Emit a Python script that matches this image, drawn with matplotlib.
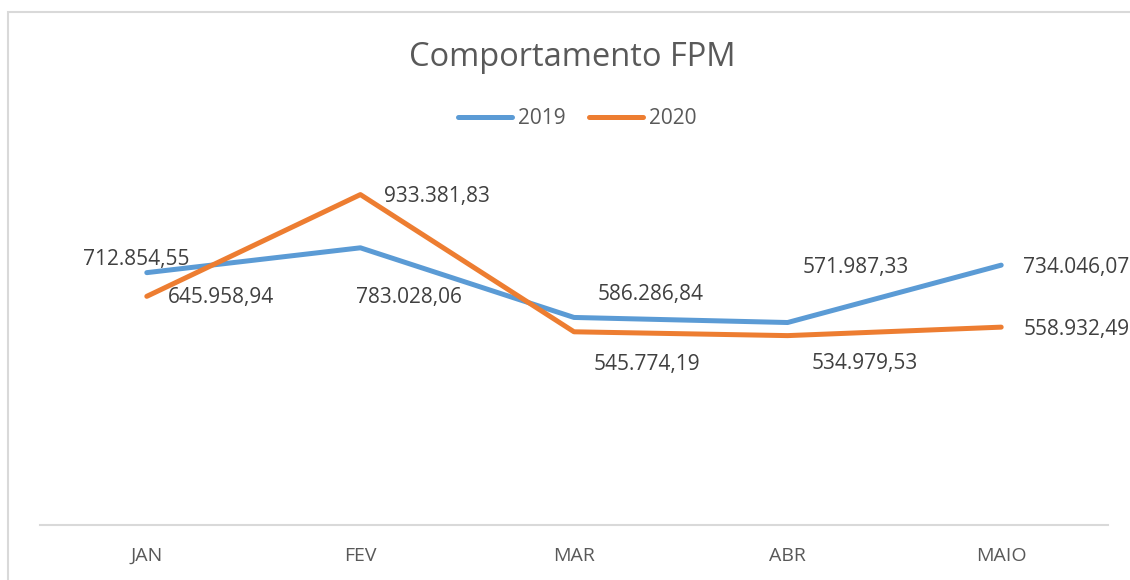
import matplotlib
matplotlib.use('Agg')
import matplotlib.pyplot as plt
from matplotlib.patches import Rectangle

# dados
meses = ['JAN', 'FEV', 'MAR', 'ABR', 'MAIO']
valores_2019 = [712854.55, 783028.06, 586286.84, 571987.33, 734046.07]
valores_2020 = [645958.94, 933381.83, 545774.19, 534979.53, 558932.49]
series = ['2019', '2020']

# deslocamento dos rótulos (pixels)
desloc_2019 = [(-11, 13), (49, -50), (77, 23), (68, 55), (75, -2)]
desloc_2020 = [(74, -1), (77, -2), (73, -33), (77, -28), (75, -2)]

azul = '#5B9BD5'
laranja = '#ED7D31'

plt.rcParams['font.family'] = ['Open Sans', 'DejaVu Sans']


def formata(v):
    s = f"{v:,.2f}"
    return s.replace(',', 'X').replace('.', ',').replace('X', '.')


fig = plt.figure(figsize=(11.3, 5.8), dpi=100)
ax = fig.add_axes([40 / 1130, 55 / 580, 1068 / 1130, 354 / 580])

x = list(range(len(meses)))
ax.plot(x, valores_2019, color=azul, lw=3.6, solid_capstyle='round', solid_joinstyle='round', label=series[0])
ax.plot(x, valores_2020, color=laranja, lw=3.6, solid_capstyle='round', solid_joinstyle='round', label=series[1])

for i, v in enumerate(valores_2019):
    ax.annotate(formata(v), (i, v), xytext=desloc_2019[i], textcoords='offset pixels',
                ha='center', va='center', fontsize=15, color='#404040')
for i, v in enumerate(valores_2020):
    ax.annotate(formata(v), (i, v), xytext=desloc_2020[i], textcoords='offset pixels',
                ha='center', va='center', fontsize=15, color='#404040')

ax.set_xlim(-0.5, 4.5)
ax.set_ylim(0, 1000000)
ax.set_xticks(x)
ax.set_xticklabels(meses, fontsize=14, color='#595959')
ax.tick_params(axis='x', length=0, pad=16)
ax.set_yticks([])
for lado in ['top', 'left', 'right']:
    ax.spines[lado].set_visible(False)
ax.spines['bottom'].set_color('#d9d9d9')
ax.spines['bottom'].set_linewidth(1.5)
ax.patch.set_alpha(0)

fig.text(572 / 1130, 1 - 57 / 580, 'Comportamento FPM', ha='center', va='center',
         fontsize=23.5, color='#595959')

fig.legend(loc='center', bbox_to_anchor=(577 / 1130, 1 - 119 / 580), ncol=2, frameon=False,
           fontsize=15, handlelength=2.6, handletextpad=0.3, columnspacing=1.1,
           labelcolor='#595959')

# borda do gráfico
fig.patches.append(Rectangle((8 / 1130, -0.05), 1.1, 1 - 12 / 580 + 0.05, transform=fig.transFigure,
                             fill=False, edgecolor='#d9d9d9', lw=1.5))

fig.savefig('out.png', dpi=100)
